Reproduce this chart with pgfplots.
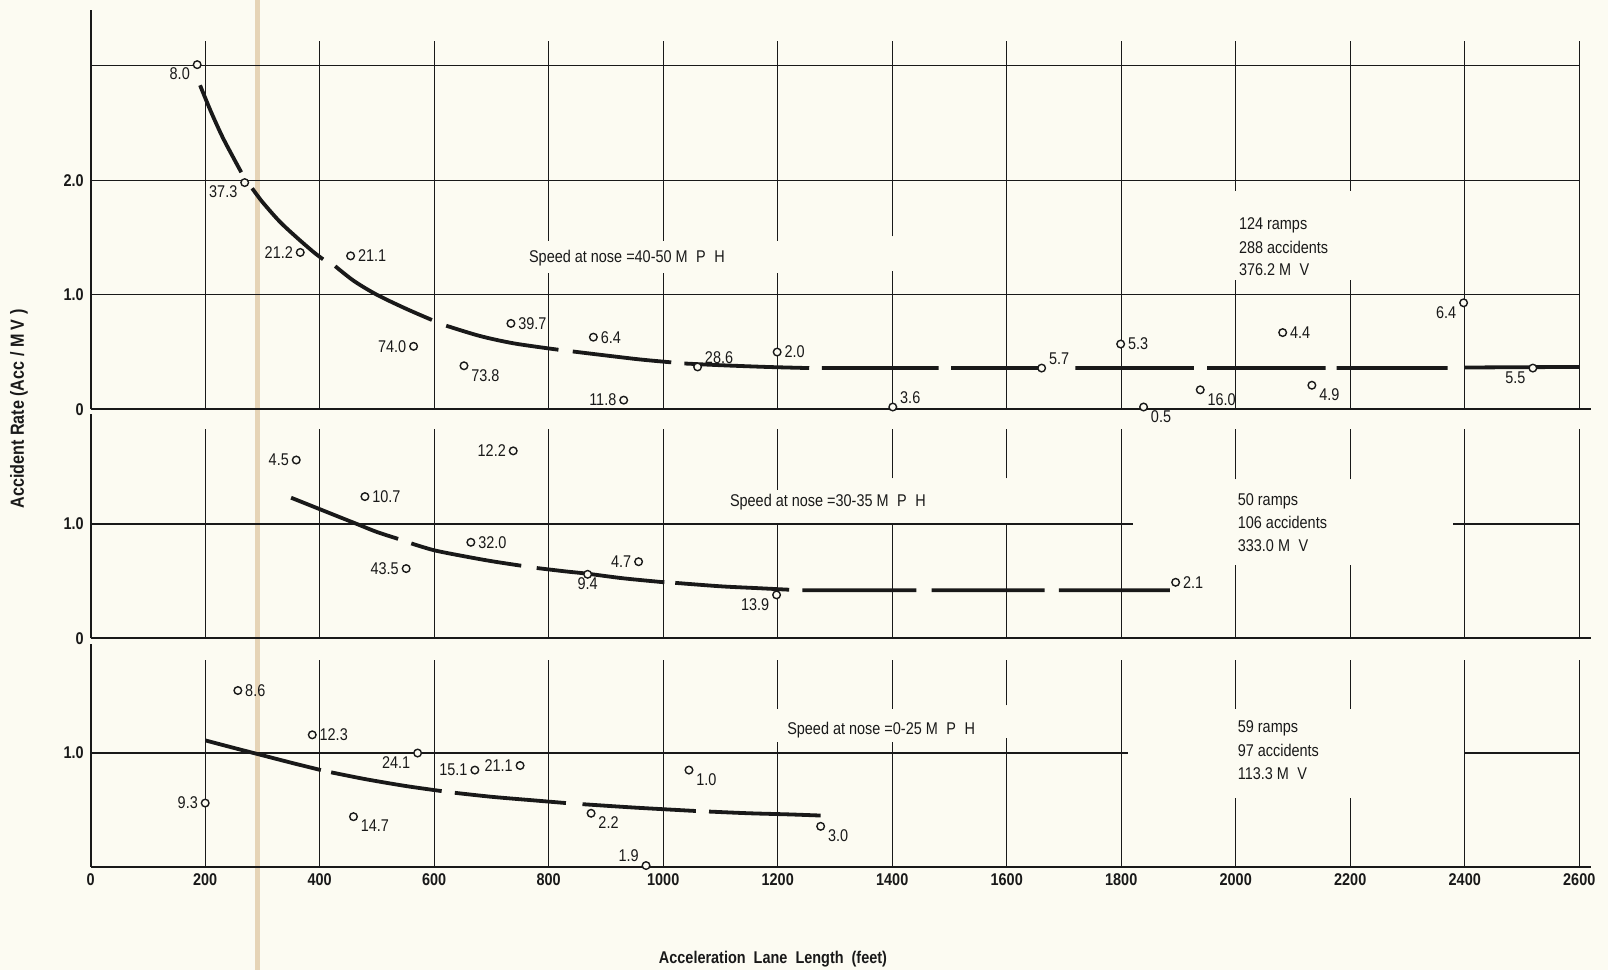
\documentclass[border=0pt]{standalone}
\usepackage{fontspec}
\setmainfont{Liberation Sans}[FakeStretch=0.85]
\usepackage{pgfplots}
\usepackage{pgfplotstable}
\pgfplotsset{compat=1.18}
\definecolor{paper}{RGB}{252,251,242}
\definecolor{ink}{RGB}{25,25,25}
\definecolor{fold}{RGB}{230,212,182}

% ---------- data: top panel (40-50 MPH) ----------
\pgfplotstableread{
x y
186 3.01
269 1.98
366 1.37
454 1.34
564 0.55
652 0.38
734 0.75
878 0.63
931 0.08
1060 0.37
1199 0.50
1401 0.02
1661 0.36
1799 0.57
1839 0.02
1938 0.17
2082 0.67
2133 0.21
2398 0.93
2519 0.36
}\toppts

\pgfplotstableread{
x y
191 2.83
210 2.60
230 2.38
250 2.19
263 2.07
nan nan
282 1.93
300 1.81
330 1.64
360 1.50
390 1.37
406 1.31
nan nan
427 1.25
460 1.12
500 1.00
550 0.88
596 0.78
nan nan
621 0.73
680 0.64
740 0.575
817 0.52
nan nan
842 0.505
900 0.47
960 0.435
1014 0.41
nan nan
1037 0.40
1100 0.385
1180 0.37
1255 0.36
nan nan
1277 0.36
1481 0.36
nan nan
1503 0.36
1665 0.36
nan nan
1720 0.36
1927 0.36
nan nan
1950 0.36
2157 0.36
nan nan
2176 0.36
2370 0.36
nan nan
2399 0.365
2600 0.37
}\topcurve

% ---------- data: middle panel (30-35 MPH) ----------
\pgfplotstableread{
x y
359 1.56
479 1.24
738 1.64
551 0.61
664 0.84
868 0.56
957 0.67
1198 0.38
1895 0.49
}\midpts

\pgfplotstableread{
x y
350 1.23
400 1.13
465 1.00
500 0.93
537 0.87
nan nan
560 0.83
600 0.77
650 0.72
700 0.675
752 0.635
nan nan
779 0.615
830 0.585
868 0.565
930 0.525
1002 0.49
nan nan
1021 0.485
1100 0.455
1160 0.44
1220 0.425
nan nan
1243 0.42
1442 0.42
nan nan
1469 0.42
1666 0.42
nan nan
1691 0.42
1885 0.42
}\midcurve

% ---------- data: bottom panel (0-25 MPH) ----------
\pgfplotstableread{
x y
257 1.55
387 1.16
200 0.56
571 1.00
671 0.85
750 0.89
459 0.44
1045 0.85
874 0.47
970 0.01
1275 0.355
}\botpts

\pgfplotstableread{
x y
201 1.11
250 1.045
300 0.98
350 0.915
402 0.85
nan nan
420 0.83
480 0.77
550 0.71
613 0.665
nan nan
636 0.65
700 0.615
770 0.585
830 0.56
nan nan
859 0.55
950 0.52
1057 0.49
nan nan
1080 0.485
1150 0.47
1220 0.46
1275 0.45
}\botcurve

\tikzset{
  grd/.style={ink, line width=0.65pt},
  note/.style={anchor=west, font=\fontsize{8.5}{10}\selectfont, text=ink, inner sep=0pt},
  lab/.style={font=\fontsize{8.5}{10}\selectfont, text=ink, inner xsep=3.5pt, inner ysep=1.5pt},
}
\newcommand\lbl[4]{\node[lab, anchor=#3] at (axis cs:#1,#2) {#4};}
\pgfplotsset{
  panel/.style={scale only axis, width=750pt, xmin=0, xmax=2620, ymin=0,
    clip=false, axis lines*=left,
    axis line style={ink, line width=1.1pt},
    major tick length=0pt, tick style={draw=none},
    ticklabel style={font=\bfseries\fontsize{8.5}{10}\selectfont, text=ink},
    anchor=south west},
  crv/.style={ink, line width=1.9pt, unbounded coords=jump, smooth, tension=0.5},
  pts/.style={only marks, mark=*, mark size=1.9pt,
    mark options={draw=ink, fill=paper, line width=0.7pt}},
}

\begin{document}
\begin{tikzpicture}
\useasboundingbox (0,0) rectangle (804pt,485pt);
\fill[paper] (0,0) rectangle (804pt,485pt);
\draw[fold, line width=2.5pt] (128.6pt,0) -- (128.6pt,485pt);

% ================= TOP PANEL =================
\begin{axis}[panel, at={(45.35pt,280.35pt)}, height=199.8pt, ymax=3.49,
  xtick=\empty, ytick={0,1,2}, yticklabels={0,1.0,2.0}]
\pgfplotsinvokeforeach{200,400,600,1600,1800,2400,2600}{\draw[grd] (axis cs:#1,0) -- (axis cs:#1,3.22);}
\pgfplotsinvokeforeach{800,1000,1200}{\draw[grd] (axis cs:#1,0) -- (axis cs:#1,1.19) (axis cs:#1,1.47) -- (axis cs:#1,3.22);}
\draw[grd] (axis cs:1400,0) -- (axis cs:1400,1.21) (axis cs:1400,1.51) -- (axis cs:1400,3.22);
\pgfplotsinvokeforeach{2000,2200}{\draw[grd] (axis cs:#1,0) -- (axis cs:#1,1.13) (axis cs:#1,1.91) -- (axis cs:#1,3.22);}
\pgfplotsinvokeforeach{1,2,3}{\draw[grd] (axis cs:0,#1) -- (axis cs:2600,#1);}
\addplot[crv] table[x=x, y=y] {\topcurve};
\addplot[pts] table[x=x, y=y] {\toppts};
\lbl{186}{3.01}{north east}{8.0}
\lbl{269}{1.98}{north east}{37.3}
\lbl{366}{1.37}{east}{21.2}
\lbl{454}{1.34}{west}{21.1}
\lbl{564}{0.55}{east}{74.0}
\lbl{652}{0.38}{north west}{73.8}
\lbl{734}{0.75}{west}{39.7}
\lbl{878}{0.63}{west}{6.4}
\lbl{931}{0.08}{east}{11.8}
\lbl{1060}{0.37}{south west}{28.6}
\lbl{1199}{0.50}{west}{2.0}
\lbl{1401}{0.02}{south west}{3.6}
\lbl{1661}{0.36}{south west}{5.7}
\lbl{1799}{0.57}{west}{5.3}
\lbl{1839}{0.02}{north west}{0.5}
\lbl{1938}{0.17}{north west}{16.0}
\lbl{2082}{0.67}{west}{4.4}
\lbl{2133}{0.21}{north west}{4.9}
\lbl{2398}{0.93}{north east}{6.4}
\lbl{2519}{0.36}{north east}{5.5}
\node[note] at (axis cs:765,1.32) {Speed at nose =40-50 M\enspace P\enspace H};
\node[note] at (axis cs:2005,1.61) {124 ramps};
\node[note] at (axis cs:2005,1.41) {288 accidents};
\node[note] at (axis cs:2005,1.22) {376.2 M\enspace V};
\end{axis}

% ================= MIDDLE PANEL =================
\begin{axis}[panel, at={(45.35pt,165.85pt)}, height=112pt, ymax=1.96,
  xtick=\empty, ytick={0,1}, yticklabels={0,1.0}]
\pgfplotsinvokeforeach{200,400,600,800,1000,1800,2400,2600}{\draw[grd] (axis cs:#1,0) -- (axis cs:#1,1.83);}
\draw[grd] (axis cs:1200,0) -- (axis cs:1200,1.01) (axis cs:1200,1.30) -- (axis cs:1200,1.83);
\pgfplotsinvokeforeach{1400,1600}{\draw[grd] (axis cs:#1,0) -- (axis cs:#1,0.99) (axis cs:#1,1.40) -- (axis cs:#1,1.83);}
\pgfplotsinvokeforeach{2000,2200}{\draw[grd] (axis cs:#1,0) -- (axis cs:#1,0.64) (axis cs:#1,1.39) -- (axis cs:#1,1.83);}
\draw[grd] (axis cs:0,1) -- (axis cs:1821,1) (axis cs:2380,1) -- (axis cs:2600,1);
\addplot[crv] table[x=x, y=y] {\midcurve};
\addplot[pts] table[x=x, y=y] {\midpts};
\lbl{359}{1.56}{east}{4.5}
\lbl{479}{1.24}{west}{10.7}
\lbl{738}{1.64}{east}{12.2}
\lbl{551}{0.61}{east}{43.5}
\lbl{664}{0.84}{west}{32.0}
\lbl{868}{0.56}{north}{9.4}
\lbl{957}{0.67}{east}{4.7}
\lbl{1198}{0.38}{north east}{13.9}
\lbl{1895}{0.49}{west}{2.1}
\node[note] at (axis cs:1116,1.19) {Speed at nose =30-35 M\enspace P\enspace H};
\node[note] at (axis cs:2003,1.20) {50 ramps};
\node[note] at (axis cs:2003,1.01) {106 accidents};
\node[note] at (axis cs:2003,0.81) {333.0 M\enspace V};
\end{axis}

% ================= BOTTOM PANEL =================
\begin{axis}[panel, at={(45.35pt,51.65pt)}, height=111.4pt, ymax=1.96,
  xtick={0,200,400,600,800,1000,1200,1400,1600,1800,2000,2200,2400,2600},
  xticklabels={0,200,400,600,800,1000,1200,1400,1600,1800,2000,2200,2400,2600},
  ytick={1}, yticklabels={1.0}]
\pgfplotsinvokeforeach{200,400,600,800,1000,1800,2400,2600}{\draw[grd] (axis cs:#1,0) -- (axis cs:#1,1.82);}
\pgfplotsinvokeforeach{1200,1400}{\draw[grd] (axis cs:#1,0) -- (axis cs:#1,1.10) (axis cs:#1,1.39) -- (axis cs:#1,1.82);}
\draw[grd] (axis cs:1600,0) -- (axis cs:1600,1.13) (axis cs:1600,1.42) -- (axis cs:1600,1.82);
\pgfplotsinvokeforeach{2000,2200}{\draw[grd] (axis cs:#1,0) -- (axis cs:#1,0.60) (axis cs:#1,1.39) -- (axis cs:#1,1.82);}
\draw[grd] (axis cs:0,1) -- (axis cs:1811,1) (axis cs:2400,1) -- (axis cs:2600,1);
\addplot[crv] table[x=x, y=y] {\botcurve};
\addplot[pts] table[x=x, y=y] {\botpts};
\lbl{257}{1.55}{west}{8.6}
\lbl{387}{1.16}{west}{12.3}
\lbl{200}{0.56}{east}{9.3}
\lbl{571}{1.00}{north east}{24.1}
\lbl{671}{0.85}{east}{15.1}
\lbl{750}{0.89}{east}{21.1}
\lbl{459}{0.44}{north west}{14.7}
\lbl{1045}{0.85}{north west}{1.0}
\lbl{874}{0.47}{north west}{2.2}
\lbl{970}{0.01}{south east}{1.9}
\lbl{1275}{0.355}{north west}{3.0}
\node[note] at (axis cs:1216,1.20) {Speed at nose =0-25 M\enspace P\enspace H};
\node[note] at (axis cs:2003,1.22) {59 ramps};
\node[note] at (axis cs:2003,1.02) {97 accidents};
\node[note] at (axis cs:2003,0.82) {113.3 M\enspace V};
\end{axis}

\node[rotate=90, font=\bfseries\fontsize{9.5}{10}\selectfont, text=ink] at (9.5pt,280.5pt) {Accident Rate (Acc / M V )};
\node[font=\bfseries\fontsize{8.5}{10}\selectfont, text=ink] at (386.5pt,5.5pt) {Acceleration\ \ Lane\ \ Length\ \ (feet)};
\end{tikzpicture}
\end{document}
